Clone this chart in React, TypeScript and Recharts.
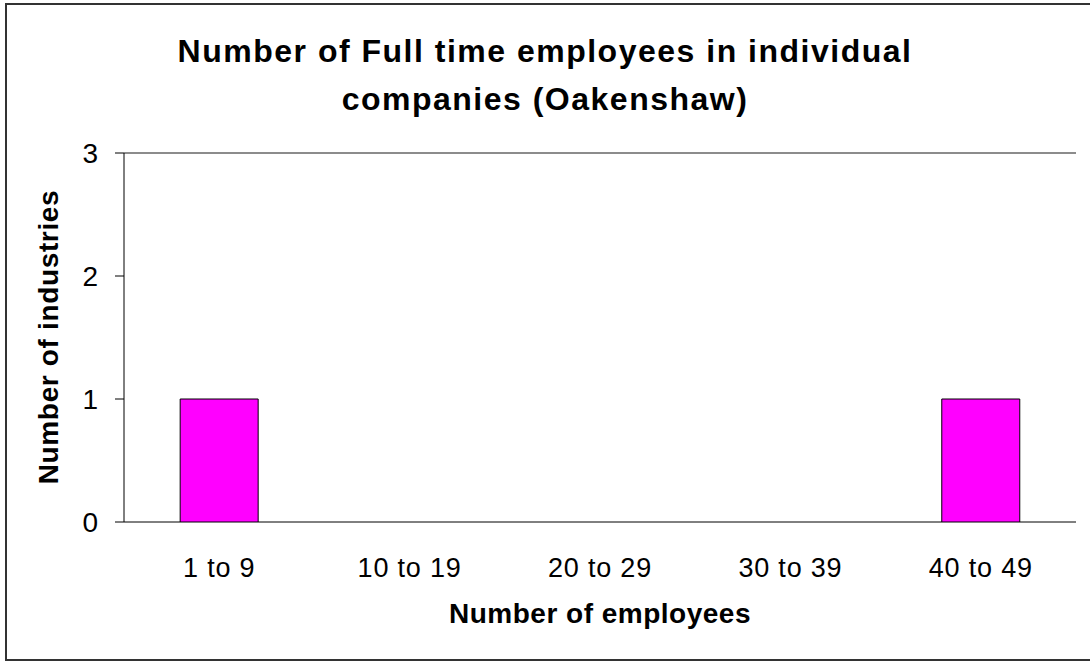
import React from "react";
import { BarChart, Bar, XAxis, YAxis, CartesianGrid, ReferenceLine } from "recharts";

const categories = ["1 to 9", "10 to 19", "20 to 29", "30 to 39", "40 to 49"];
const industries = [1, 0, 0, 0, 1];
const yTicks = [0, 1, 2, 3];
const edgeTicks = [0, 1, 2, 3, 4, 5];

const titleLines = ["Number of Full time employees in individual", "companies (Oakenshaw)"];
const xTitle = "Number of employees";
const yTitle = "Number of industries";

const data = categories.map((c, i) => ({ cat: c, value: industries[i] }));

const FONT = "'Liberation Sans', Arial, Helvetica, sans-serif";

export default function App() {
  return (
    <div style={{ position: "absolute", left: 0, top: 0, width: 1090, height: 661, background: "#fff", overflow: "hidden", fontFamily: FONT }}>
      <div
        style={{
          position: "absolute",
          left: 5,
          top: 3,
          width: 1100,
          height: 658,
          boxSizing: "border-box",
          borderLeft: "2px solid #333",
          borderTop: "2px solid #333",
          borderBottom: "2px solid #333",
        }}
      />
      <div style={{ position: "absolute", left: 0, top: 0 }}>
        <BarChart
          width={1090}
          height={661}
          data={data}
          margin={{ top: 153, right: 14, bottom: 79, left: 0 }}
          barCategoryGap="29.5%"
        >
          <CartesianGrid horizontal={true} vertical={false} stroke="#000" strokeOpacity={1} />
          <XAxis
            xAxisId="edges"
            type="number"
            domain={[0, 5]}
            ticks={edgeTicks}
            tick={false}
            tickLine={{ stroke: "#000" }}
            tickSize={9}
            axisLine={{ stroke: "#000" }}
            height={0}
            allowDataOverflow
          />
          <XAxis
            xAxisId="cat"
            dataKey="cat"
            type="category"
            axisLine={false}
            tickLine={false}
            tickSize={0}
            tickMargin={36}
            height={60}
            interval={0}
            tick={{ fill: "#000", fontSize: 27, fontFamily: FONT, letterSpacing: 0.8 }}
          />
          <YAxis
            yAxisId="left"
            type="number"
            domain={[0, 3]}
            ticks={yTicks}
            width={124}
            tickSize={9}
            tickMargin={17}
            axisLine={{ stroke: "#000" }}
            tickLine={{ stroke: "#000" }}
            tick={{ fill: "#000", fontSize: 28, fontFamily: FONT }}
            allowDataOverflow
          />
          <YAxis
            yAxisId="right"
            orientation="right"
            type="number"
            domain={[0, 3]}
            ticks={yTicks}
            width={0}
            tick={false}
            tickLine={false}
            axisLine={{ stroke: "#8c8c8c", strokeWidth: 2 }}
          />
          <ReferenceLine yAxisId="left" xAxisId="cat" y={3} stroke="#8c8c8c" strokeWidth={2} />
          <Bar
            xAxisId="cat"
            yAxisId="left"
            dataKey="value"
            fill="#FF00FF"
            stroke="#000"
            strokeWidth={1}
            isAnimationActive={false}
          />
        </BarChart>
      </div>
      <svg
        width={1090}
        height={661}
        style={{ position: "absolute", left: 0, top: 0, pointerEvents: "none" }}
      >
        <text x={545} y={62} textAnchor="middle" fontFamily={FONT} fontWeight="bold" fontSize={32} letterSpacing={1.5} fill="#000">
          {titleLines[0]}
        </text>
        <text x={545} y={110} textAnchor="middle" fontFamily={FONT} fontWeight="bold" fontSize={32} letterSpacing={1.5} fill="#000">
          {titleLines[1]}
        </text>
        <text x={600} y={623} textAnchor="middle" fontFamily={FONT} fontWeight="bold" fontSize={28} letterSpacing={0.5} fill="#000">
          {xTitle}
        </text>
        <text
          x={58}
          y={337}
          textAnchor="middle"
          fontFamily={FONT}
          fontWeight="bold"
          fontSize={28}
          letterSpacing={0.65}
          fill="#000"
          transform="rotate(-90, 58, 337)"
        >
          {yTitle}
        </text>
      </svg>
    </div>
  );
}
